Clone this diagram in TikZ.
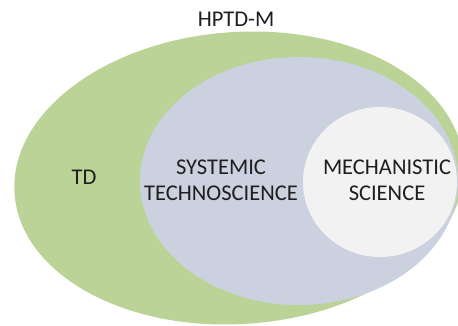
\documentclass[tikz,border=0pt]{standalone}
\usepackage{fontspec}
\setmainfont{Carlito}
\definecolor{tdgreen}{RGB}{187,211,150}
\definecolor{techblue}{RGB}{204,209,223}
\definecolor{mechwhite}{RGB}{242,242,242}
\definecolor{labelgray}{RGB}{30,30,30}
\begin{document}
\begin{tikzpicture}[x=1pt,y=-1pt,
    setlabel/.style={text=labelgray,font=\fontsize{22.5}{26}\selectfont,align=center}]
        \useasboundingbox (0,0) rectangle (458,326); % same frame as the image
        \clip (0,0) rectangle (458,326);
        \fill[tdgreen,rotate around={4:(239,178)}] (239,178) ellipse [x radius=225, y radius=146];
        \fill[techblue] (299,181) ellipse [x radius=159, y radius=124];
        \fill[mechwhite] (380,182) ellipse [x radius=77, y radius=75];
        \node[setlabel] (hptdm) at (236,19) {HPTD-M};
        \node[setlabel] (td) at (84,177) {TD};
        \node[setlabel] (systemic) at (221,180) {SYSTEMIC\\TECHNOSCIENCE};
        \node[setlabel] (mechanistic) at (387,180) {MECHANISTIC\\SCIENCE};
    \end{tikzpicture}
\end{document}
